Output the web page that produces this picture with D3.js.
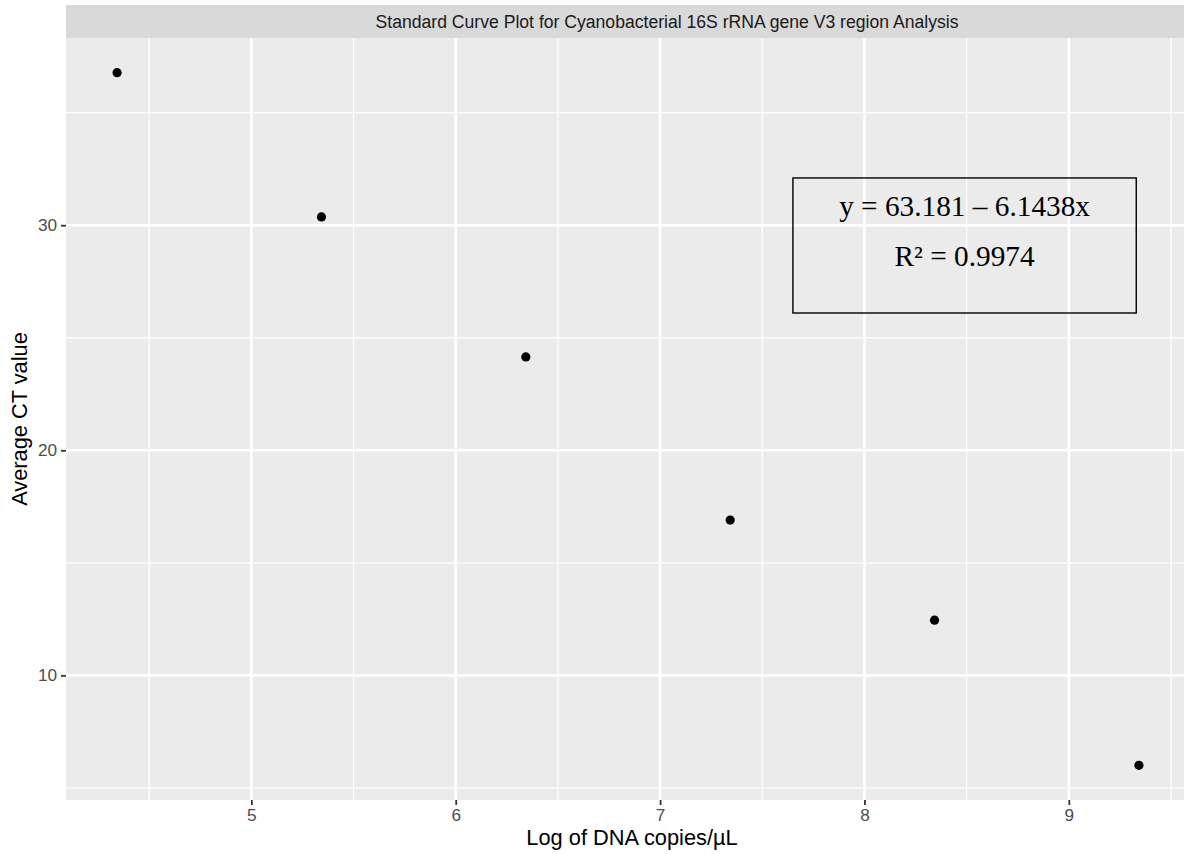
<!DOCTYPE html>
<html>
<head>
<meta charset="utf-8">
<script src="https://cdn.jsdelivr.net/npm/d3@7"></script>
<style>
  body { margin: 0; background: #fff; }
  svg { display: block; }
</style>
</head>
<body>
<svg id="chart" width="1184" height="854"></svg>
<script>
// data
const logCopies = [4.343, 5.343, 6.343, 7.343, 8.343, 9.343]
const avgCt = [36.78, 30.37, 24.15, 16.90, 12.45, 6.00]

const xMajor = [5, 6, 7, 8, 9]
const xMinor = [4.5, 5.5, 6.5, 7.5, 8.5, 9.5]
const yMajor = [10, 20, 30]
const yMinor = [5, 15, 25, 35]

const boxX = [7.65, 9.33]
const boxY = [26.1, 32.1]
const boxLines = ["y = 63.181 \u2013 6.1438x", "R\u00B2 = 0.9974"]

const stripTitle = "Standard Curve Plot for Cyanobacterial 16S rRNA gene V3 region Analysis"
const xTitle = "Log of DNA copies/\u00B5L"
const yTitle = "Average CT value"

// panel geometry
const pLeft = 66, pRight = 1190, pTop = 38, pBottom = 800
const stripTop = 5

const svg = d3.select('#chart')
const font = "'Liberation Sans', Arial, Helvetica, sans-serif"

// ggplot-style 5% expansion
const pad = (ext) => {
    const d = (ext[1] - ext[0]) * 0.05
    return [ext[0] - d, ext[1] + d]
}

const x = d3.scaleLinear().domain(pad(d3.extent(logCopies))).range([pLeft, pRight])
const y = d3.scaleLinear().domain(pad(d3.extent(avgCt))).range([pBottom, pTop])

// panel background
svg.append('rect')
    .attr('x', pLeft).attr('y', pTop)
    .attr('width', pRight - pLeft).attr('height', pBottom - pTop)
    .attr('fill', '#EBEBEB')

// strip
svg.append('rect')
    .attr('x', pLeft).attr('y', stripTop)
    .attr('width', pRight - pLeft).attr('height', pTop - stripTop)
    .attr('fill', '#D9D9D9')

svg.append('text')
    .attr('x', 667).attr('y', 28)
    .attr('text-anchor', 'middle')
    .style('font-family', font).style('font-size', '17.6px')
    .style('fill', '#1A1A1A')
    .text(stripTitle)

// grid lines
const grid = svg.append('g')
grid.selectAll('.xmin').data(xMinor).enter().append('line')
    .attr('x1', d => x(d)).attr('x2', d => x(d))
    .attr('y1', pTop).attr('y2', pBottom)
    .attr('stroke', '#fff').attr('stroke-width', 1.3)
grid.selectAll('.ymin').data(yMinor).enter().append('line')
    .attr('x1', pLeft).attr('x2', pRight)
    .attr('y1', d => y(d)).attr('y2', d => y(d))
    .attr('stroke', '#fff').attr('stroke-width', 1.3)
grid.selectAll('.xmaj').data(xMajor).enter().append('line')
    .attr('x1', d => x(d)).attr('x2', d => x(d))
    .attr('y1', pTop).attr('y2', pBottom)
    .attr('stroke', '#fff').attr('stroke-width', 2.6)
grid.selectAll('.ymaj').data(yMajor).enter().append('line')
    .attr('x1', pLeft).attr('x2', pRight)
    .attr('y1', d => y(d)).attr('y2', d => y(d))
    .attr('stroke', '#fff').attr('stroke-width', 2.6)

// axes
const xAxis = svg.append('g')
    .attr('transform', `translate(0,${pBottom})`)
    .call(d3.axisBottom(x).tickValues(xMajor).tickSize(5).tickPadding(4).tickFormat(d3.format('d')))
const yAxis = svg.append('g')
    .attr('transform', `translate(${pLeft},0)`)
    .call(d3.axisLeft(y).tickValues(yMajor).tickSize(5).tickPadding(4).tickFormat(d3.format('d')))

;[xAxis, yAxis].forEach(a => {
    a.select('.domain').remove()
    a.selectAll('.tick line').attr('stroke', '#333333').attr('stroke-width', 1.8)
    a.selectAll('.tick text')
        .style('font-family', font).style('font-size', '17.2px')
        .attr('fill', '#4D4D4D')
})

// points
svg.append('g').selectAll('circle')
    .data(logCopies.map((v, i) => ({x: v, y: avgCt[i]})))
    .enter().append('circle')
    .attr('cx', d => x(d.x)).attr('cy', d => y(d.y))
    .attr('r', 4.6)
    .attr('fill', '#000')

// equation box
svg.append('rect')
    .attr('x', x(boxX[0])).attr('y', y(boxY[1]))
    .attr('width', x(boxX[1]) - x(boxX[0]))
    .attr('height', y(boxY[0]) - y(boxY[1]))
    .attr('fill', 'none').attr('stroke', '#000').attr('stroke-width', 1.4)

const cx = (x(boxX[0]) + x(boxX[1])) / 2
svg.append('g').selectAll('text')
    .data(boxLines)
    .enter().append('text')
    .attr('x', cx)
    .attr('y', (d, i) => 216 + i * 50)
    .attr('text-anchor', 'middle')
    .style('font-family', "'Liberation Serif', 'Times New Roman', serif")
    .style('font-size', '29.3px')
    .style('fill', '#000')
    .text(d => d)

// axis titles
svg.append('text')
    .attr('x', 632).attr('y', 845)
    .attr('text-anchor', 'middle')
    .style('font-family', font).style('font-size', '21.8px')
    .style('fill', '#000')
    .text(xTitle)

svg.append('text')
    .attr('transform', `translate(27,${(pTop + pBottom) / 2}) rotate(-90)`)
    .attr('text-anchor', 'middle')
    .style('font-family', font).style('font-size', '21.8px')
    .style('fill', '#000')
    .text(yTitle)
</script>
</body>
</html>
